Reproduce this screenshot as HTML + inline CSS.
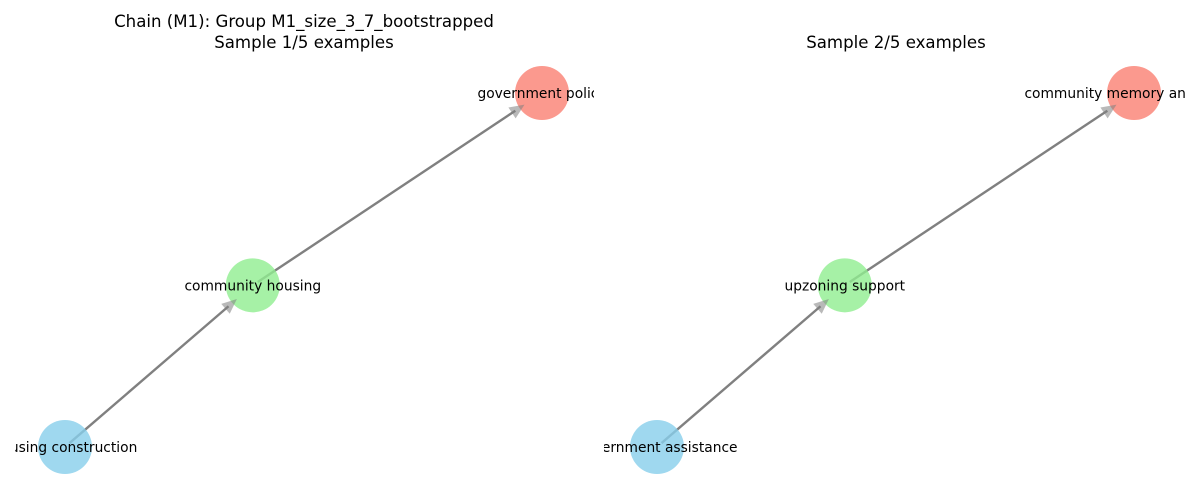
<!DOCTYPE html>
<html><head><meta charset="utf-8"><style>
html,body{margin:0;padding:0;background:#fff;}
svg{display:block;font-family:"DejaVu Sans","Liberation Sans",sans-serif;}
</style></head><body>
<svg id="chart" width="1200" height="500" viewBox="0 0 1200 500">
<defs>
<clipPath id="clipL"><rect x="15" y="0" width="579" height="500"/></clipPath>
<clipPath id="clipR"><rect x="604" y="0" width="582" height="500"/></clipPath>
</defs>
<text x="304" y="27" font-size="16.6" text-anchor="middle" fill="#000">Chain (M1): Group M1_size_3_7_bootstrapped</text>
<text x="304" y="48" font-size="16.6" text-anchor="middle" fill="#000">Sample 1/5 examples</text>
<text x="896" y="48" font-size="16.6" text-anchor="middle" fill="#000">Sample 2/5 examples</text>
<g id="p1" clip-path="url(#clipL)"></g>
<g id="p2" clip-path="url(#clipR)"></g>
</svg>
<script>
const panel1Labels = ["housing construction", "community housing", "government policy"];
const panel2Labels = ["government assistance", "upzoning support", "community memory and identit"];
const nodeX = [0, 1, 2.54];
const nodeY = [0, 1, 2.19];
const nodeColors = ["#87CEEB", "#90EE90", "#FA8072"];
const NS = "http://www.w3.org/2000/svg";
function mk(tag, attrs){const e=document.createElementNS(NS,tag);for(const k in attrs)e.setAttribute(k,attrs[k]);return e;}
function sx(v, off){return off + 65 + (v/2.54)*477;}
function sy(v){return 447 - (v/2.19)*354;}
function draw(gid, off, labels, prefix){
  const g=document.getElementById(gid);
  const r=27;
  for(let i=0;i<nodeX.length-1;i++){
    const x1=sx(nodeX[i],off), y1=sy(nodeY[i]), x2=sx(nodeX[i+1],off), y2=sy(nodeY[i+1]);
    const dx=x2-x1, dy=y2-y1, L=Math.hypot(dx,dy), ux=dx/L, uy=dy/L;
    const tx=x2-ux*(r-6), ty=y2-uy*(r-6);
    const bx=tx-ux*15, by=ty-uy*15;
    const ln=mk("line",{x1:x1+ux*6,y1:y1+uy*6,x2:bx+ux*4,y2:by+uy*4,stroke:"#808080","stroke-width":2.4});
    
    
    const px=-uy, py=ux;
    const ah=mk("polygon",{points:`${tx},${ty} ${bx+px*6.5},${by+py*6.5} ${bx-px*6.5},${by-py*6.5}`,fill:"#808080","fill-opacity":0.55});
    
    
    g.appendChild(ln);
    g.appendChild(ah);
  }
  for(let i=0;i<nodeX.length;i++){
    const c=mk("circle",{cx:sx(nodeX[i],off),cy:sy(nodeY[i]),r:r,fill:nodeColors[i],"fill-opacity":0.8});
    
    
    g.appendChild(c);
  }
  for(const el of Array.from(g.querySelectorAll('polygon'))){g.appendChild(el);}
  for(let i=0;i<nodeX.length;i++){
    const t=mk("text",{x:sx(nodeX[i],off),y:sy(nodeY[i])+5,"font-size":13.8,"text-anchor":"middle",fill:"#000"});
    t.textContent=labels[i];
    
    
    g.appendChild(t);
  }
}
draw("p1",0,panel1Labels,"panel-1");
draw("p2",592,panel2Labels,"panel-2");
</script>
</body></html>
